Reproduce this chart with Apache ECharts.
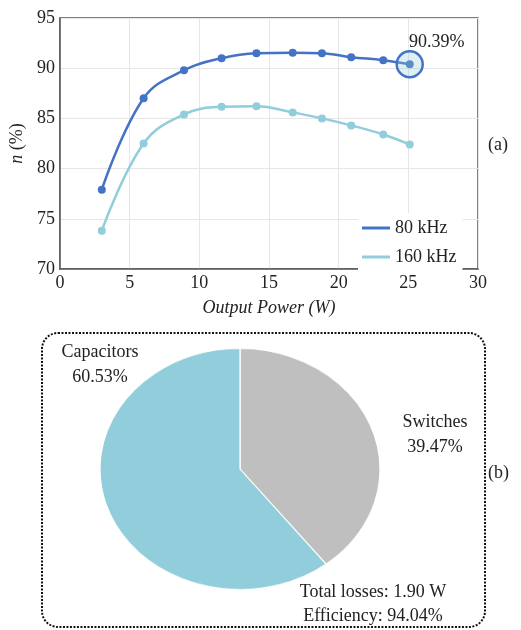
<!DOCTYPE html>
<html>
<head>
<meta charset="utf-8">
<script src="https://cdn.jsdelivr.net/npm/echarts@6/dist/echarts.min.js"></script>
<style>
html,body{margin:0;padding:0;background:#fff;}
#main{position:absolute;left:0;top:0;width:521px;height:630px;}
#pie{position:absolute;left:98px;top:326.5px;width:284px;height:284px;transform:scaleY(0.861);transform-origin:50% 50%;}
</style>
</head>
<body>
<div id="main"></div>
<div id="pie"></div>
<script>
// ---- data ----
const powerW = [3.0, 6.0, 8.9, 11.6, 14.1, 16.7, 18.8, 20.9, 23.2, 25.1];
const eff80 = [77.9, 87.0, 89.8, 91.0, 91.5, 91.55, 91.5, 91.1, 90.8, 90.39];
const eff160 = [73.8, 82.5, 85.4, 86.15, 86.2, 85.6, 85.0, 84.3, 83.4, 82.4];
const seriesNames = ['80 kHz', '160 kHz'];
const lossNames = ['Switches', 'Capacitors'];
const lossShares = [39.47, 60.53];
const totalLosses = '1.90 W';
const efficiency = '94.04%';

const FONT = '"Liberation Serif", "Times New Roman", serif';
const C80 = '#4472C4', C160 = '#92CDDC';

const main = echarts.init(document.getElementById('main'), null, {renderer: 'canvas'});
main.setOption({
  animation: false,
  textStyle: {fontFamily: FONT},
  grid: {left: 60, top: 18, right: 43, bottom: 361, containLabel: false,
         show: true, borderColor: '#595959', borderWidth: 1.5},
  xAxis: {
    type: 'value', min: 0, max: 30, interval: 5,
    name: 'Output Power (W)', nameLocation: 'middle', nameGap: 30,
    nameTextStyle: {fontFamily: FONT, fontSize: 18, fontStyle: 'italic', color: '#222'},
    axisLine: {show: true, lineStyle: {color: '#595959', width: 1.5}},
    axisTick: {show: false},
    axisLabel: {fontFamily: FONT, fontSize: 18, color: '#222', margin: 5},
    splitLine: {show: true, lineStyle: {color: '#e6e6e6', width: 1}}
  },
  yAxis: {
    type: 'value', min: 70, max: 95, interval: 5,
    name: '{i|n} (%)', nameLocation: 'middle', nameGap: 32, nameRotate: 90,
    nameTextStyle: {fontFamily: FONT, fontSize: 18, color: '#222',
      rich: {i: {fontFamily: FONT, fontSize: 18, fontStyle: 'italic', color: '#222'}}},
    axisLine: {show: true, lineStyle: {color: '#595959', width: 1.5}},
    axisTick: {show: false},
    axisLabel: {fontFamily: FONT, fontSize: 18, color: '#222', margin: 5},
    splitLine: {show: true, lineStyle: {color: '#e6e6e6', width: 1}}
  },
  legend: {
    orient: 'vertical', left: 358, top: 213,
    backgroundColor: '#fff', padding: [6, 6, 6, 4], itemGap: 11,
    itemWidth: 28, itemHeight: 3, icon: 'rect',
    textStyle: {fontFamily: FONT, fontSize: 18, color: '#222'},
    data: seriesNames
  },
  series: [
    {
      name: seriesNames[0], type: 'line', smooth: 0.4,
      data: powerW.map((x, i) => [x, eff80[i]]),
      symbol: 'circle', symbolSize: 8,
      lineStyle: {color: C80, width: 2.5}, itemStyle: {color: C80},
      z: 3,
      markPoint: {
        symbol: 'circle', symbolSize: 26,
        itemStyle: {color: 'rgba(146,205,220,0.3)', borderColor: C80, borderWidth: 2.5},
        label: {show: true, formatter: '90.39%', position: 'inside', offset: [27, -22],
                fontFamily: FONT, fontSize: 18, color: '#222'},
        data: [{coord: [powerW[powerW.length - 1], eff80[eff80.length - 1]]}]
      }
    },
    {
      name: seriesNames[1], type: 'line', smooth: 0.4,
      data: powerW.map((x, i) => [x, eff160[i]]),
      symbol: 'circle', symbolSize: 8,
      lineStyle: {color: C160, width: 2.5}, itemStyle: {color: C160},
      z: 2
    }
  ],
  graphic: [
    {type: 'text', left: 488, top: 136, style: {text: '(a)', font: '18px ' + FONT, fill: '#222'}},
    {type: 'rect', shape: {x: 42, y: 333, width: 443, height: 294, r: 16},
     style: {fill: 'none', stroke: '#111', lineWidth: 2, lineDash: [2, 1.5]}},
    {type: 'text', x: 100, y: 340, style: {text: lossNames[1] + '\n' + lossShares[1].toFixed(2) + '%',
      font: '18px ' + FONT, fill: '#222', align: 'center', lineHeight: 25}},
    {type: 'text', x: 435, y: 410, style: {text: lossNames[0] + '\n' + lossShares[0].toFixed(2) + '%',
      font: '18px ' + FONT, fill: '#222', align: 'center', lineHeight: 25}},
    {type: 'text', x: 373, y: 580, style: {text: 'Total losses: ' + totalLosses + '\nEfficiency: ' + efficiency,
      font: '18px ' + FONT, fill: '#222', align: 'center', lineHeight: 24}},
    {type: 'text', left: 488, top: 464, style: {text: '(b)', font: '18px ' + FONT, fill: '#222'}}
  ]
});

const pie = echarts.init(document.getElementById('pie'), null, {renderer: 'canvas'});
pie.setOption({
  animation: false,
  series: [{
    type: 'pie', radius: 140, center: ['50%', '50%'],
    startAngle: 90, clockwise: true,
    label: {show: false}, labelLine: {show: false},
    itemStyle: {borderColor: '#fff', borderWidth: 1.2},
    emphasis: {disabled: true},
    data: lossNames.map((n, i) => ({name: n, value: lossShares[i],
      itemStyle: {color: i === 0 ? '#BFBFBF' : '#92CDDC'}}))
  }]
});
</script>
</body>
</html>
